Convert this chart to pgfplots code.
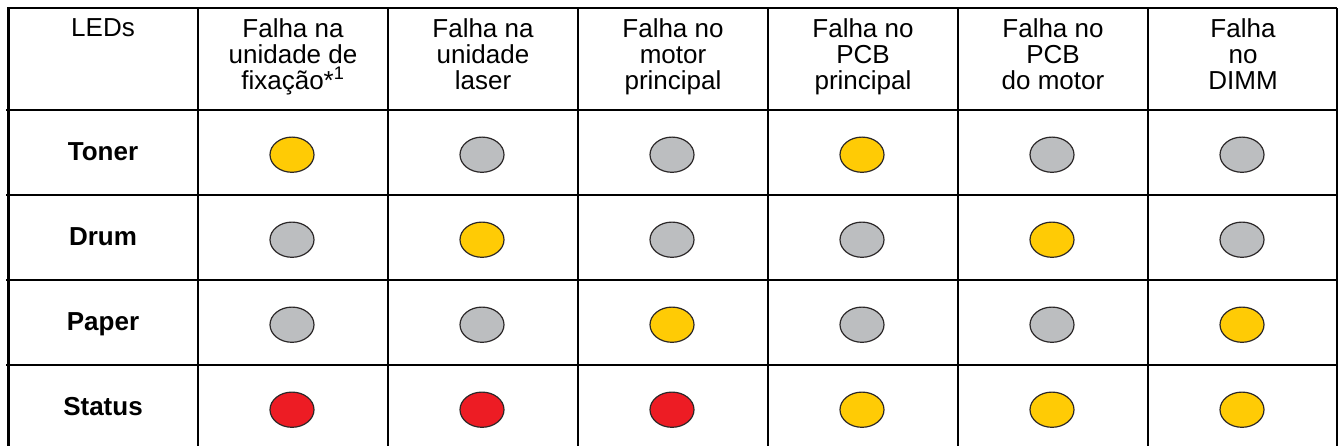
\documentclass[border=0pt]{standalone}
\usepackage{pgfplots}
\pgfplotsset{compat=1.18}
\usepackage{fontspec}
\setmainfont{Liberation Sans}
\definecolor{ledY}{HTML}{FFCB05}
\definecolor{ledG}{HTML}{BCBEC0}
\definecolor{ledR}{HTML}{ED1C24}
\definecolor{ledO}{HTML}{2B2728}
\begin{document}
\begin{tikzpicture}
\begin{axis}[name=ax, width=1003.5pt, height=334.5pt, scale only axis,
  xmin=0, xmax=1338, ymin=0, ymax=446, y dir=reverse, hide axis, clip=false]
% yellow LEDs (on)
\addplot[only marks, mark=*, mark size=13.2pt,
  mark options={xscale=1.25, fill=ledY, draw=ledO, line width=0.9pt}]
  coordinates {(292,154.7) (862,154.7) (482,239.7) (1052,239.7) (672,324.7) (1242,324.7) (862,409.7) (1052,409.7) (1242,409.7)};
% grey LEDs (off)
\addplot[only marks, mark=*, mark size=13.2pt,
  mark options={xscale=1.25, fill=ledG, draw=ledO, line width=0.9pt}]
  coordinates {(482,154.7) (672,154.7) (1052,154.7) (1242,154.7) (292,239.7) (672,239.7) (862,239.7) (1242,239.7) (292,324.7) (482,324.7) (862,324.7) (1052,324.7)};
% red LEDs
\addplot[only marks, mark=*, mark size=13.2pt,
  mark options={xscale=1.25, fill=ledR, draw=ledO, line width=0.9pt}]
  coordinates {(292,409.7) (482,409.7) (672,409.7)};
% grid
\draw[line width=1.8pt] (axis cs:7,8) -- (axis cs:1337,8);
\draw[line width=2pt] (axis cs:6,110) -- (axis cs:1337,110);
\draw[line width=2pt] (axis cs:6,195) -- (axis cs:1337,195);
\draw[line width=2pt] (axis cs:6,280) -- (axis cs:1337,280);
\draw[line width=2pt] (axis cs:6,365) -- (axis cs:1337,365);
\draw[line width=2pt] (axis cs:8.5,8) -- (axis cs:8.5,446);
\draw[line width=2pt] (axis cs:198,8) -- (axis cs:198,446);
\draw[line width=2pt] (axis cs:388,8) -- (axis cs:388,446);
\draw[line width=2pt] (axis cs:578,8) -- (axis cs:578,446);
\draw[line width=2pt] (axis cs:768,8) -- (axis cs:768,446);
\draw[line width=2pt] (axis cs:958,8) -- (axis cs:958,446);
\draw[line width=2pt] (axis cs:1148,8) -- (axis cs:1148,446);
\draw[line width=1pt] (axis cs:1337,8) -- (axis cs:1337,446);
% header
\node[anchor=north, align=center, inner sep=0pt, font=\fontsize{19.5pt}{19.5pt}\selectfont] at (axis cs:103,18.1) {LEDs};
\node[anchor=north, align=center, inner sep=0pt, font=\fontsize{19.5pt}{19.5pt}\selectfont] at (axis cs:293,18.1) {Falha na\\unidade de\\fixação*\smash{\textsuperscript{1}}};
\node[anchor=north, align=center, inner sep=0pt, font=\fontsize{19.5pt}{19.5pt}\selectfont] at (axis cs:483,18.1) {Falha na\\unidade\\laser};
\node[anchor=north, align=center, inner sep=0pt, font=\fontsize{19.5pt}{19.5pt}\selectfont] at (axis cs:673,18.1) {Falha no\\motor\\principal};
\node[anchor=north, align=center, inner sep=0pt, font=\fontsize{19.5pt}{19.5pt}\selectfont] at (axis cs:863,18.1) {Falha no\\PCB\\principal};
\node[anchor=north, align=center, inner sep=0pt, font=\fontsize{19.5pt}{19.5pt}\selectfont] at (axis cs:1053,18.1) {Falha no\\PCB\\do motor};
\node[anchor=north, align=center, inner sep=0pt, font=\fontsize{19.5pt}{19.5pt}\selectfont] at (axis cs:1243,18.1) {Falha\\no\\DIMM};
% row labels
\node[anchor=base, inner sep=0pt, font=\fontsize{19.5pt}{19.5pt}\selectfont\bfseries] at (axis cs:103,160) {Toner};
\node[anchor=base, inner sep=0pt, font=\fontsize{19.5pt}{19.5pt}\selectfont\bfseries] at (axis cs:103,245) {Drum};
\node[anchor=base, inner sep=0pt, font=\fontsize{19.5pt}{19.5pt}\selectfont\bfseries] at (axis cs:103,330) {Paper};
\node[anchor=base, inner sep=0pt, font=\fontsize{19.5pt}{19.5pt}\selectfont\bfseries] at (axis cs:103,415) {Status};
\end{axis}
\pgfresetboundingbox
\path (ax.south west) rectangle (ax.north east);
\end{tikzpicture}
\end{document}
